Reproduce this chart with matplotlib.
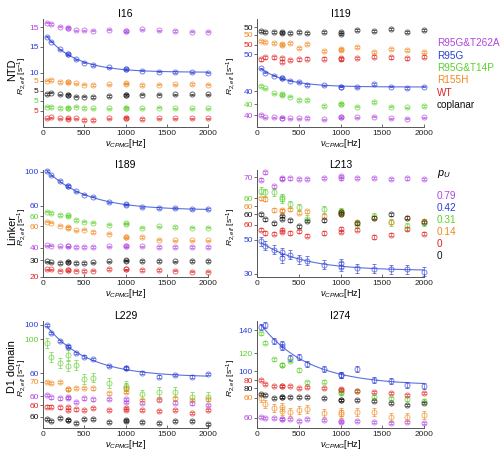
import numpy as np
import matplotlib
matplotlib.use("Agg")
import matplotlib.pyplot as plt

plt.rcParams['font.family'] = ['Liberation Sans', 'DejaVu Sans']
plt.rcParams['mathtext.fontset'] = 'custom'
plt.rcParams['mathtext.it'] = 'Liberation Sans:italic'
plt.rcParams['mathtext.rm'] = 'Liberation Sans'

# CPMG frequencies (Hz); 300 and 1000 Hz measured twice
X = [50, 100, 200, 300, 300, 400, 500, 600, 800, 1000, 1000, 1200, 1400, 1600, 1800, 2000]

SERIES = ["R95G&T262A", "R95G", "R95G&T14P", "R155H", "WT", "coplanar"]
P_U = ["0.79", "0.42", "0.31", "0.14", "0", "0"]
COLORS = ["#b044e0", "#2b3fd6", "#5cd12c", "#f0881c", "#e02222", "#111111"]

# R2,eff values (order follows SERIES)
I16 = [
    [15.88, 15.63, 15.12, 14.83, 14.9, 14.37, 14.37, 14.31, 14.5, 14.19, 14.25, 14.56, 14.37, 14.25, 14.12, 14.12],
    [16.92, 15.96, 14.5, 13.6, 13.5, 12.58, 11.92, 11.48, 11.04, 10.65, 10.7, 10.38, 10.19, 10.13, 10.08, 10.0],
    [3.85, 3.79, 3.60, 3.65, 3.6, 3.85, 3.60, 3.54, 3.54, 3.65, 3.6, 3.54, 3.65, 3.54, 3.54, 3.54],
    [5.06, 5.19, 4.81, 4.81, 4.75, 4.56, 4.29, 4.23, 4.37, 4.56, 4.5, 4.23, 4.29, 4.37, 4.42, 4.29],
    [3.54, 3.73, 3.54, 3.54, 3.5, 3.54, 3.21, 3.21, 3.54, 3.65, 3.6, 3.40, 3.54, 3.54, 3.54, 3.54],
    [4.42, 4.67, 4.37, 4.23, 4.3, 3.90, 3.90, 3.85, 4.04, 4.23, 4.3, 4.29, 4.29, 4.37, 4.37, 4.37],
]
I119 = [
    [40.0, 39.37, 39.37, 39.26, 39.3, 39.1, 39.1, 39.18, 38.83, 39.37, 39.4, 39.37, 39.54, 39.1, 38.99, 39.37],
    [46.19, 44.99, 44.17, 43.46, 43.6, 42.81, 42.45, 41.63, 41.55, 41.17, 41.2, 41.01, 41.91, 41.17, 40.82, 41.17],
    [44.9, 44.28, 42.92, 42.45, 42.7, 41.99, 41.09, 41.09, 39.46, 40.0, 40.1, 39.26, 40.54, 39.26, 39.1, 39.46],
    [48.37, 48.01, 47.9, 47.28, 47.5, 47.9, 46.54, 47.47, 45.72, 46.1, 45.9, 46.81, 45.45, 46.19, 45.91, 45.45],
    [46.1, 46.65, 46.65, 46.38, 45.45, 45.91, 46.1, 46.27, 46.27, 46.1, 46.4, 46.46, 46.81, 46.65, 46.38, 46.81],
    [49.07, 48.64, 48.64, 48.8, 48.37, 48.37, 48.64, 48.45, 48.72, 48.72, 48.17, 49.26, 49.07, 49.62, 48.64, 49.26],
]
I189 = [
    [42.7, 42.3, 41.5, 41.5, 41.5, 40.7, 40.7, 40.7, 41.5, 41.5, 41.8, 41.5, 40.7, 40.7, 40.7, 40.7],
    [100.8, 95.8, 89.1, 83.3, 83.0, 76.7, 72.8, 70.5, 63.8, 61.1, 61.5, 58.0, 57.3, 57.3, 56.1, 56.1],
    [65.5, 64.0, 61.6, 60.5, 61.0, 55.8, 53.8, 52.6, 50.0, 51.2, 51.8, 46.5, 48.0, 47.2, 46.5, 46.5],
    [65.5, 64.3, 60.5, 59.6, 57.7, 55.0, 55.8, 53.0, 51.1, 47.2, 47.0, 47.2, 44.1, 43.3, 43.3, 43.3],
    [28.6, 28.6, 27.0, 27.8, 27.5, 27.0, 26.7, 27.0, 29.0, 28.6, 28.8, 27.8, 27.8, 27.0, 25.8, 25.8],
    [28.8, 27.3, 26.8, 28.0, 28.2, 26.8, 26.8, 27.3, 28.8, 30.0, 29.6, 29.2, 29.2, 28.8, 29.2, 29.2],
]
L213 = [
    [68.6, 72.9, 64.7, 69.4, 69.2, 69.4, 69.0, 69.0, 69.6, 70.6, 69.4, 69.6, 69.6, 69.0, 69.4, 69.0],
    [49.0, 46.5, 44.1, 42.8, 39.2, 41.2, 38.6, 37.8, 35.3, 34.3, 36.3, 33.4, 33.1, 32.8, 32.8, 31.4],
    [64.3, 63.4, 63.4, 59.4, 60.5, 56.5, 54.9, 48.1, 53.5, 51.6, 52.5, 44.7, 49.6, 46.1, 43.7, 45.7],
    [64.4, 64.0, 57.6, 57.1, 57.5, 58.1, 56.1, 56.9, 54.1, 56.5, 55.5, 50.6, 53.2, 50.6, 53.2, 51.2],
    [57.1, 55.1, 54.7, 57.1, 55.9, 55.1, 56.1, 53.5, 55.1, 57.5, 55.9, 57.1, 52.8, 54.1, 57.5, 54.7],
    [60.0, 57.1, 54.7, 59.0, 57.6, 56.6, 53.1, 56.1, 56.6, 61.4, 60.5, 54.7, 58.1, 60.0, 58.1, 55.5],
]
L229 = [
    [60.8, 58.9, 58.1, 58.9, 58.5, 55.3, 58.1, 57.3, 57.5, 57.3, 55.3, 54.5, 56.7, 54.5, 54.0, 52.6],
    [100.0, 93.6, 87.0, 82.1, 82.6, 77.1, 73.8, 71.9, 66.1, 64.2, 64.8, 60.6, 57.3, 58.7, 57.3, 59.5],
    [96.7, 85.1, 80.2, 87.0, 77.9, 78.8, 67.0, 68.3, 63.6, 61.4, 59.5, 54.5, 56.7, 56.7, 52.6, 52.6],
    [70.0, 69.2, 70.0, 63.7, 64.2, 65.0, 65.0, 64.5, 60.4, 64.5, 61.7, 54.9, 55.5, 56.3, 54.9, 55.5],
    [58.6, 58.6, 58.1, 58.1, 55.9, 56.4, 55.9, 57.3, 55.9, 57.3, 55.9, 55.9, 55.0, 55.9, 53.6, 55.9],
    [57.9, 56.7, 58.7, 57.3, 57.0, 54.5, 58.1, 58.1, 55.9, 57.3, 56.5, 55.9, 54.5, 56.7, 56.7, 54.0],
]
I274 = [
    [61.0, 60.0, 59.4, 58.7, 58.7, 58.7, 57.1, 58.4, 57.8, 56.1, 56.5, 57.1, 56.1, 55.1, 56.1, 55.1],
    [142.6, 144.9, 129.3, 126.3, 123.1, 112.4, 114.0, 106.5, 101.7, 96.1, 96.5, 101.7, 91.2, 90.2, 86.3, 85.4],
    [139.5, 130.3, 114.1, 108.6, 109.0, 112.8, 103.7, 91.7, 92.3, 81.0, 82.0, 83.5, 77.7, 76.1, 75.4, 73.8],
    [60.0, 53.6, 49.7, 50.6, 47.0, 46.3, 48.0, 48.7, 45.4, 46.3, 43.8, 46.3, 46.3, 40.9, 41.5, 43.1],
    [80.0, 76.1, 74.1, 74.1, 74.5, 74.1, 71.9, 72.9, 71.9, 70.2, 71.0, 69.6, 68.3, 67.6, 65.4, 67.6],
    [74.4, 73.5, 70.2, 71.2, 71.5, 71.2, 71.8, 71.8, 70.2, 68.6, 68.6, 68.6, 67.9, 65.4, 63.7, 65.4],
]

# per-series error sizes (s^-1)
ERR_I16 = [0.12, 0.12, 0.12, 0.12, 0.12, 0.12]
ERR_I119 = [0.2, 0.2, 0.2, 0.3, 0.4, 0.3]
ERR_I189 = [0.8, 0.8, 0.8, 0.8, 0.8, 0.8]
ERR_L213 = [0.8, 2.6, 2.0, 1.0, 1.0, 0.8]
ERR_L229 = [1.0, 1.0, 4.0, 1.0, 1.0, 0.8]
ERR_I274 = [1.0, 3.0, 1.5, 4.0, 1.0, 1.0]

# vertical display offsets of each series (in units of the R95G axis)
OFF_I16 = [3.73, 0, -0.38, 3.40, -2.31, 1.48]
OFF_I119 = [-6.54, 0, -3.54, 5.26, 2.53, 7.36]
OFF_I189 = [-29.4, 0, -12.5, -24.2, -43.7, -34.2]
OFF_L213 = [16.3, 0, 14.1, 9.6, -1.2, 4.7]
OFF_L229 = [-18.7, 0, -11.8, -16.9, -26.1, -35.8]
OFF_I274 = [-5.6, 0, -2.7, 14.0, 11.2, 3.1]

# colored y tick labels: (series index, value)
TICKS_I16 = [(0, 15), (1, 15), (1, 10), (3, 5), (5, 5), (2, 5), (4, 5)]
TICKS_I119 = [(5, 50), (3, 50), (4, 50), (1, 50), (1, 40), (2, 40), (0, 40)]
TICKS_I189 = [(1, 100), (1, 60), (2, 60), (3, 60), (0, 40), (5, 30), (4, 20)]
TICKS_L213 = [(0, 70), (2, 60), (3, 60), (5, 60), (4, 60), (1, 50), (1, 30)]
TICKS_L229 = [(1, 100), (2, 100), (1, 60), (3, 70), (0, 60), (4, 60), (5, 60)]
TICKS_I274 = [(1, 140), (2, 120), (1, 100), (4, 80), (5, 80), (3, 60), (0, 60)]

YLIM = {"I16": (-0.44, 20.3), "I119": (30.2, 59.6), "I189": (-24.0, 102.0),
        "L213": (28.2, 90.6), "L229": (14.9, 103.3), "I274": (44.4, 148.8)}

panels = [
    ("I16", I16, ERR_I16, OFF_I16, TICKS_I16, 0, 0),
    ("I119", I119, ERR_I119, OFF_I119, TICKS_I119, 0, 1),
    ("I189", I189, ERR_I189, OFF_I189, TICKS_I189, 1, 0),
    ("L213", L213, ERR_L213, OFF_L213, TICKS_L213, 1, 1),
    ("L229", L229, ERR_L229, OFF_L229, TICKS_L229, 2, 0),
    ("I274", I274, ERR_I274, OFF_I274, TICKS_I274, 2, 1),
]


def exp_fit(x, y):
    x = np.asarray(x, float)
    y = np.asarray(y, float)
    best = None
    for k in np.linspace(60, 2500, 600):
        A = np.column_stack([np.ones_like(x), np.exp(-x / k)])
        coef, *_ = np.linalg.lstsq(A, y, rcond=None)
        r = np.sum((A @ coef - y) ** 2)
        if best is None or r < best[0]:
            best = (r, k, coef)
    _, k, coef = best
    xs = np.linspace(x.min(), x.max(), 200)
    return xs, coef[0] + coef[1] * np.exp(-xs / k)


W, H = 500, 453
col_left = [43, 257]
col_width = [165, 167]
row_bottom = [127, 277, 428]
row_top = [19, 170, 321]

fig = plt.figure(figsize=(W / 100, H / 100), dpi=100)
x = np.array(X, float)

for name, data, errs, offs, ticks, r, c in panels:
    ax = fig.add_axes([col_left[c] / W, 1 - row_bottom[r] / H,
                       col_width[c] / W, (row_bottom[r] - row_top[r]) / H])
    for i, (vals, e, off) in enumerate(zip(data, errs, offs)):
        y = np.array(vals) + off
        ax.errorbar(x, y, yerr=e, fmt='o', ms=3.6, mfc='none', mec=COLORS[i],
                    mew=0.7, ecolor=COLORS[i], elinewidth=0.6, capsize=1.2,
                    capthick=0.6, alpha=0.65, clip_on=False, zorder=3)
        if i == 1:
            xs, ys = exp_fit(x, y)
            ax.plot(xs, ys, color="#4a62d8", lw=0.8, alpha=0.9, zorder=2)
    ax.set_xlim(0, 2000)
    ax.set_ylim(*YLIM[name])
    ax.set_xticks([0, 500, 1000, 1500, 2000])
    pos = [v + offs[s] for s, v in ticks]
    ax.set_yticks(pos)
    ax.set_yticklabels([str(v) for s, v in ticks])
    ax.tick_params(axis='both', labelsize=6.0, length=2, width=0.6, pad=1,
                   colors='#555555')
    ax.tick_params(axis='x', labelcolor='#222222', direction='in', pad=2.5)
    ax.tick_params(axis='y', direction='out')
    for lab, (s, v) in zip(ax.get_yticklabels(), ticks):
        lab.set_color(COLORS[s])
    for sp in ['top', 'right']:
        ax.spines[sp].set_visible(False)
    for sp in ['left', 'bottom']:
        ax.spines[sp].set_linewidth(0.7)
        ax.spines[sp].set_color('#555555')
    ax.set_title(name, fontsize=7.5, pad=0.5)
    ax.set_xlabel(r'$\nu_{CPMG}$[Hz]', fontsize=6.5, labelpad=0)
    ax.set_ylabel(r'$R_{2,eff}$ [s$^{-1}$]', fontsize=6.0, labelpad=0)
    ax.yaxis.set_label_coords(-0.085 if c == 0 else -0.112, 0.47)

# row labels
for label, yc in [("NTD", 70), ("Linker", 230), ("D1 domain", 367)]:
    fig.text(12 / W, 1 - yc / H, label, rotation=90, fontsize=7.8,
             ha='center', va='center')

# legend of series
for i, (s, col) in enumerate(zip(SERIES, COLORS)):
    fig.text(437 / W, 1 - (43.3 + 12.3 * i) / H, s, color=col, fontsize=7.2,
             ha='left', va='center')

fig.text(437 / W, 1 - 174 / H, r'$p_U$', fontsize=7.8, ha='left', va='center')
for i, (p, col) in enumerate(zip(P_U, COLORS)):
    fig.text(437 / W, 1 - (196 + 12 * i) / H, p, color=col, fontsize=7.2,
             ha='left', va='center')

fig.savefig("out.png", dpi=100)
